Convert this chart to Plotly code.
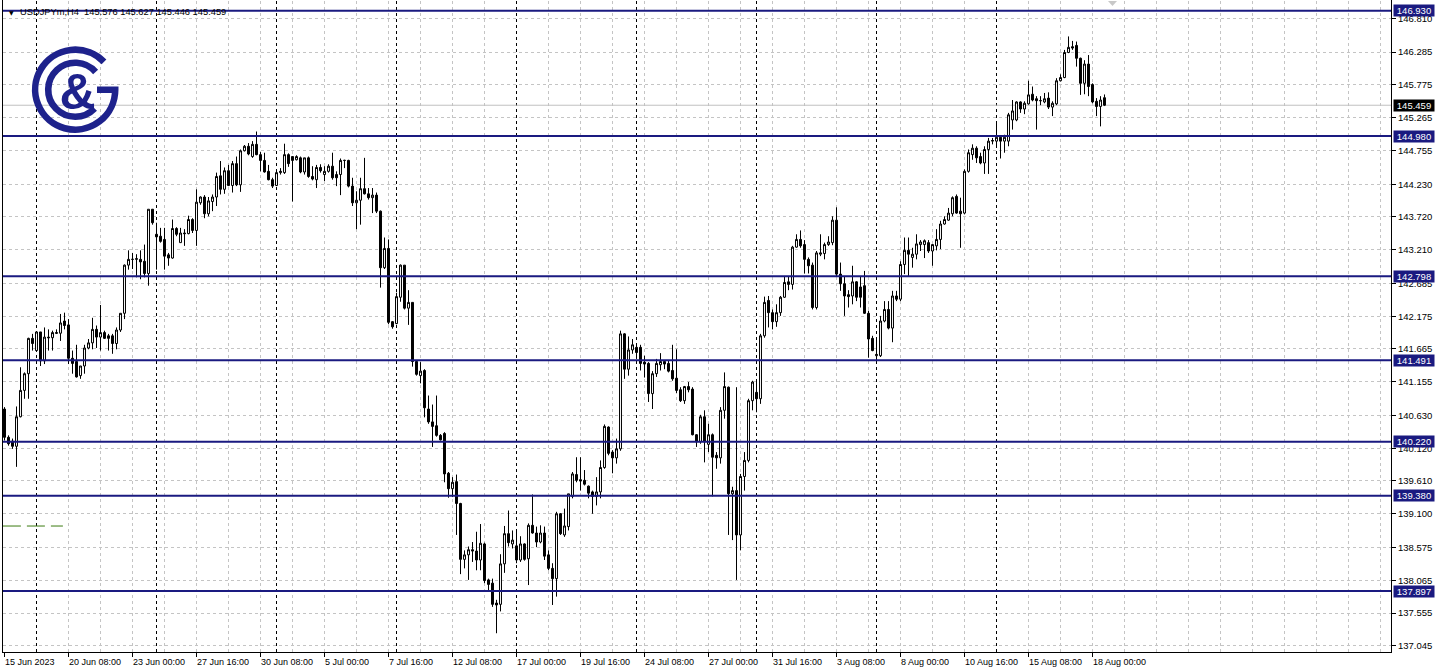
import base64
import plotly.graph_objects as go

# ---------------- data (USDJPYm, H4) ----------------
bar_open = [
    140.73, 140.29, 140.23, 140.15, 140.61, 141.02, 141.28, 141.83, 141.64, 141.93,
    141.48, 141.85, 141.84, 141.92, 141.91, 142.10, 142.04, 141.52, 141.47, 141.25,
    141.40, 141.68, 141.76, 141.97, 141.85, 141.92, 141.87, 141.87, 141.75, 141.96,
    142.22, 142.97, 143.06, 143.06, 143.06, 143.03, 142.84, 143.84, 143.45, 143.42,
    143.37, 143.13, 143.08, 143.54, 143.32, 143.47, 143.46, 143.68, 143.51, 143.94,
    144.03, 143.77, 143.96, 144.03, 144.36, 144.15, 144.44, 144.21, 144.55, 144.22,
    144.75, 144.82, 144.66, 144.85, 144.69, 144.60, 144.43, 144.30, 144.21, 144.41,
    144.41, 144.69, 144.66, 144.61, 144.64, 144.42, 144.64, 144.35, 144.30, 144.49,
    144.38, 144.43, 144.51, 144.38, 144.38, 144.60, 144.60, 144.20, 143.94, 143.98,
    144.16, 144.08, 144.02, 144.06, 143.81, 142.93, 143.23, 142.09, 142.06, 142.47,
    142.97, 142.30, 142.39, 141.47, 141.25, 141.33, 140.73, 140.53, 140.47, 140.32,
    140.35, 139.73, 139.49, 139.60, 139.26, 138.39, 138.46, 138.54, 138.52, 138.38,
    138.63, 138.07, 138.02, 137.71, 137.69, 138.32, 138.79, 138.63, 138.60, 138.38,
    138.63, 138.40, 138.92, 138.80, 138.66, 138.80, 138.46, 138.25, 138.09, 139.10,
    138.77, 138.90, 139.37, 139.71, 139.63, 139.62, 139.53, 139.44, 139.37, 139.44,
    139.82, 140.45, 140.06, 139.97, 140.11, 141.90, 141.35, 141.65, 141.69, 141.69,
    141.46, 141.44, 140.97, 141.28, 141.42, 141.47, 141.44, 141.33, 141.21, 141.03,
    140.86, 141.08, 141.04, 140.33, 140.22, 140.61, 140.18, 140.33, 140.01, 139.97,
    140.71, 141.07, 139.41, 139.46, 138.77, 139.68, 139.93, 140.86, 140.99, 140.89,
    141.87, 142.42, 142.23, 142.09, 142.23, 142.47, 142.71, 142.67, 143.25, 143.37,
    143.29, 143.06, 142.97, 142.31, 143.14, 143.15, 143.29, 143.32, 143.67, 142.83,
    142.68, 142.51, 142.49, 142.71, 142.63, 142.65, 142.22, 141.83, 141.56, 141.56,
    142.10, 142.28, 141.99, 142.49, 142.44, 142.98, 143.20, 143.09, 143.14, 143.29,
    143.29, 143.32, 143.19, 143.27, 143.37, 143.61, 143.67, 143.77, 144.04, 143.81,
    143.78, 144.43, 144.69, 144.79, 144.66, 144.56, 144.77, 144.90, 144.90, 144.96,
    144.90, 144.90, 145.23, 145.23, 145.51, 145.40, 145.48, 145.63, 145.56, 145.53,
    145.51, 145.57, 145.43, 145.48, 145.84, 145.89, 146.28, 146.37, 146.39, 146.19,
    145.80, 146.10, 145.78, 145.52, 145.44, 145.576,
]
bar_high = [
    140.76, 140.32, 140.27, 140.77, 141.38, 141.30, 141.84, 141.90, 141.93, 141.93,
    142.00, 141.97, 141.95, 141.97, 142.21, 142.23, 142.13, 141.64, 141.73, 141.40,
    141.73, 141.82, 142.15, 142.03, 142.35, 141.95, 141.90, 141.90, 142.00, 142.22,
    142.98, 143.20, 143.16, 143.14, 143.20, 143.29, 143.84, 143.84, 143.63, 143.55,
    143.55, 143.16, 143.68, 143.56, 143.55, 143.53, 143.74, 143.70, 144.15, 144.04,
    144.06, 144.03, 144.07, 144.41, 144.59, 144.49, 144.53, 144.59, 144.66, 144.77,
    144.84, 144.87, 144.90, 145.05, 144.73, 144.72, 144.53, 144.33, 144.42, 144.48,
    144.86, 144.71, 144.66, 144.68, 144.66, 144.64, 144.66, 144.51, 144.53, 144.54,
    144.51, 144.54, 144.72, 144.43, 144.63, 144.61, 144.61, 144.33, 144.12, 144.33,
    144.64, 144.17, 144.17, 144.10, 143.82, 143.40, 143.37, 142.10, 142.54, 142.98,
    142.97, 142.58, 142.39, 141.48, 141.46, 141.35, 140.94, 140.80, 140.94, 140.34,
    140.37, 139.75, 139.67, 139.71, 139.27, 138.53, 138.59, 138.66, 138.82, 138.94,
    138.65, 138.09, 138.09, 137.76, 138.47, 138.91, 139.15, 138.84, 138.82, 138.75,
    138.64, 138.95, 139.40, 138.90, 138.92, 138.90, 138.53, 138.33, 139.13, 139.11,
    139.18, 139.41, 139.75, 139.98, 139.98, 139.78, 139.54, 139.46, 139.67, 139.93,
    140.49, 140.46, 140.09, 140.27, 141.95, 141.91, 141.86, 141.82, 141.72, 141.73,
    141.56, 141.46, 141.32, 141.51, 141.60, 141.49, 141.48, 141.73, 141.66, 141.07,
    141.09, 141.15, 141.07, 140.34, 140.64, 140.71, 140.50, 140.35, 140.06, 140.76,
    141.30, 141.08, 139.52, 141.07, 139.72, 140.06, 140.89, 141.17, 141.17, 141.90,
    142.48, 142.49, 142.28, 142.36, 142.49, 142.79, 142.80, 143.27, 143.45, 143.51,
    143.36, 143.09, 143.01, 143.19, 143.45, 143.32, 143.42, 143.73, 143.87, 143.01,
    142.80, 142.58, 142.96, 142.72, 142.80, 142.88, 142.26, 141.87, 141.82, 142.18,
    142.41, 142.41, 142.57, 142.57, 143.03, 143.40, 143.40, 143.24, 143.45, 143.36,
    143.37, 143.36, 143.29, 143.53, 143.66, 143.73, 143.86, 144.04, 144.07, 144.02,
    144.46, 144.77, 144.85, 144.82, 144.72, 144.82, 144.95, 144.95, 145.18, 144.97,
    145.00, 145.34, 145.54, 145.52, 145.52, 145.52, 145.84, 145.75, 145.60, 145.60,
    145.65, 145.66, 145.52, 145.88, 145.94, 146.32, 146.53, 146.46, 146.45, 146.20,
    146.16, 146.24, 145.80, 145.57, 145.60, 145.627,
]
bar_low = [
    140.24, 140.16, 140.11, 139.83, 140.60, 140.89, 140.89, 141.64, 141.64, 141.40,
    141.43, 141.64, 141.64, 141.90, 141.79, 141.97, 141.43, 141.28, 141.22, 141.20,
    141.28, 141.66, 141.66, 141.68, 141.64, 141.82, 141.64, 141.59, 141.66, 141.93,
    142.13, 142.90, 142.91, 142.78, 142.75, 142.78, 142.65, 143.60, 142.90, 143.32,
    142.90, 142.96, 143.07, 143.42, 143.32, 143.27, 143.45, 143.47, 143.27, 143.91,
    143.70, 143.73, 143.81, 143.89, 144.07, 144.08, 144.20, 144.10, 144.20, 144.11,
    144.74, 144.68, 144.64, 144.68, 144.43, 144.41, 144.29, 144.17, 144.20, 144.38,
    144.39, 144.50, 143.96, 144.60, 144.40, 144.38, 144.33, 144.29, 144.17, 144.41,
    144.28, 144.41, 144.30, 144.20, 144.06, 144.48, 144.18, 143.89, 143.53, 143.60,
    144.07, 143.99, 143.78, 143.78, 142.62, 142.91, 142.05, 141.98, 142.05, 142.40,
    142.28, 142.04, 141.39, 141.25, 141.13, 140.60, 140.50, 140.14, 140.30, 140.24,
    139.59, 139.35, 139.36, 138.77, 138.16, 138.25, 138.07, 138.35, 138.22, 138.22,
    138.02, 137.91, 137.65, 137.24, 137.58, 138.18, 138.59, 138.56, 138.33, 138.35,
    138.37, 137.99, 138.79, 138.58, 138.64, 138.38, 138.22, 137.68, 137.81, 138.77,
    138.74, 138.84, 139.34, 139.59, 139.46, 139.54, 139.34, 139.10, 139.23, 139.34,
    139.80, 140.01, 139.73, 139.88, 140.08, 141.20, 141.25, 141.59, 141.51, 141.33,
    141.22, 140.84, 140.73, 141.23, 141.33, 141.35, 141.30, 141.17, 140.98, 140.84,
    140.81, 140.99, 140.32, 140.14, 140.19, 139.90, 140.06, 139.37, 139.80, 139.88,
    140.58, 138.77, 138.69, 138.07, 138.53, 139.46, 139.90, 140.71, 140.68, 140.81,
    141.84, 142.00, 141.97, 142.01, 142.18, 142.46, 142.58, 142.59, 143.24, 143.24,
    142.84, 142.84, 142.28, 142.28, 143.11, 143.06, 143.27, 143.28, 142.80, 142.57,
    142.18, 142.31, 142.36, 142.41, 142.31, 142.21, 141.53, 141.63, 141.48, 141.54,
    142.08, 141.97, 141.77, 142.41, 142.41, 142.83, 142.79, 142.93, 143.06, 143.19,
    143.08, 143.16, 142.96, 143.20, 143.22, 143.60, 143.66, 143.73, 143.77, 143.24,
    143.76, 144.41, 144.61, 144.56, 144.54, 144.39, 144.39, 144.85, 144.82, 144.63,
    144.72, 144.82, 145.08, 145.21, 145.34, 145.32, 145.47, 145.52, 145.08, 145.46,
    145.49, 145.40, 145.29, 145.46, 145.83, 145.88, 146.27, 146.32, 146.06, 145.62,
    145.63, 145.60, 145.49, 145.29, 145.13, 145.446,
]
bar_close = [
    140.29, 140.19, 140.15, 140.61, 141.02, 141.28, 141.83, 141.75, 141.93, 141.48,
    141.85, 141.84, 141.92, 141.91, 142.07, 142.03, 141.52, 141.44, 141.23, 141.40,
    141.68, 141.76, 141.97, 141.85, 141.92, 141.83, 141.83, 141.75, 141.96, 142.22,
    142.97, 143.06, 143.06, 143.07, 143.02, 142.84, 143.84, 143.63, 143.41, 143.34,
    143.11, 143.08, 143.54, 143.45, 143.47, 143.46, 143.68, 143.51, 143.95, 144.03,
    143.77, 143.97, 144.03, 144.35, 144.15, 144.44, 144.21, 144.55, 144.22, 144.75,
    144.82, 144.70, 144.85, 144.69, 144.60, 144.42, 144.30, 144.20, 144.41, 144.43,
    144.69, 144.55, 144.60, 144.66, 144.42, 144.64, 144.35, 144.31, 144.49, 144.44,
    144.43, 144.51, 144.33, 144.33, 144.60, 144.60, 144.20, 143.94, 143.98, 144.16,
    144.08, 144.02, 144.06, 143.81, 142.93, 143.23, 142.08, 142.01, 142.48, 142.97,
    142.30, 142.39, 141.47, 141.27, 141.32, 140.75, 140.53, 140.46, 140.32, 140.25,
    139.72, 139.49, 139.59, 139.26, 138.39, 138.46, 138.54, 138.52, 138.38, 138.64,
    138.06, 138.00, 137.69, 137.68, 138.32, 138.79, 138.65, 138.69, 138.38, 138.63,
    138.39, 138.92, 138.80, 138.66, 138.80, 138.44, 138.25, 138.09, 139.10, 138.79,
    138.91, 139.41, 139.72, 139.62, 139.61, 139.56, 139.42, 139.37, 139.44, 139.82,
    140.46, 140.04, 139.97, 140.11, 141.90, 141.35, 141.65, 141.73, 141.61, 141.44,
    141.43, 140.97, 141.28, 141.44, 141.47, 141.43, 141.32, 141.20, 141.02, 140.86,
    141.08, 141.03, 140.33, 140.22, 140.61, 140.22, 140.33, 139.98, 139.97, 140.71,
    141.08, 139.41, 139.46, 138.77, 139.68, 139.93, 140.86, 141.15, 140.89, 141.87,
    142.39, 142.23, 142.09, 142.23, 142.47, 142.70, 142.67, 143.25, 143.37, 143.27,
    143.06, 142.96, 142.31, 143.16, 143.16, 143.29, 143.33, 143.67, 142.83, 142.68,
    142.49, 142.48, 142.71, 142.47, 142.47, 142.22, 141.82, 141.64, 141.58, 142.10,
    142.28, 141.99, 142.49, 142.44, 142.98, 143.20, 143.14, 143.14, 143.30, 143.33,
    143.35, 143.19, 143.29, 143.37, 143.61, 143.68, 143.78, 144.02, 143.78, 143.77,
    144.43, 144.72, 144.79, 144.64, 144.56, 144.77, 144.90, 144.91, 144.96, 144.90,
    144.96, 145.31, 145.37, 145.51, 145.40, 145.49, 145.62, 145.54, 145.53, 145.53,
    145.56, 145.43, 145.49, 145.84, 145.89, 146.28, 146.36, 146.35, 146.19, 145.80,
    146.10, 145.75, 145.51, 145.44, 145.54, 145.459,
]

date_labels = ["15 Jun 2023", "20 Jun 08:00", "23 Jun 00:00", "27 Jun 16:00",
               "30 Jun 08:00", "5 Jul 00:00", "7 Jul 16:00", "12 Jul 08:00",
               "17 Jul 00:00", "19 Jul 16:00", "24 Jul 08:00", "27 Jul 00:00",
               "31 Jul 16:00", "3 Aug 08:00", "8 Aug 00:00", "10 Aug 16:00",
               "15 Aug 08:00", "18 Aug 00:00"]
date_label_bars = [0, 16, 32, 48, 64, 80, 96, 112, 128, 144, 160, 176,
                   192, 208, 224, 240, 256, 272]
week_start_bars = [8, 38, 68, 98, 128, 158, 188, 218, 248]

level_prices = [146.930, 144.980, 142.798, 141.491, 140.220, 139.380, 137.897]
last_price = 145.459
price_ticks = [146.810, 146.285, 145.775, 145.265, 144.755, 144.230, 143.720,
               143.210, 142.685, 142.175, 141.665, 141.155, 140.630, 140.120,
               139.610, 139.100, 138.575, 138.065, 137.555, 137.045]
indicator_level = 138.909
title_text = "USDJPYm,H4  145.576 145.627 145.446 145.459"

# ---------------- styling ----------------
NAVY = "#1a1a80"
LOGO = "#1e228c"
GRID = "#c4c4c4"
FONT = "Liberation Sans"
W, H = 1437, 670
PL, PT, PW, PH = 3, 0, 1388, 652
X_RANGE = [-0.375, 346.625]
Y_RANGE = [136.948, 147.097]


def paper(px, py):
    return (px - PL) / PW, (PT + PH - py) / PH


bars = list(range(len(bar_close)))
hi = [max(h, o, c) for h, o, c in zip(bar_high, bar_open, bar_close)]
lo = [min(l, o, c) for l, o, c in zip(bar_low, bar_open, bar_close)]

fig = go.Figure()
fig.add_trace(go.Candlestick(
    x=bars, open=bar_open, high=hi, low=lo, close=bar_close,
    increasing=dict(line=dict(color="black", width=1), fillcolor="white"),
    decreasing=dict(line=dict(color="black", width=1), fillcolor="black"),
    whiskerwidth=0, hoverinfo="skip", showlegend=False,
))

shapes = []
# vertical grid every 8 bars
for b in range(8, 347, 8):
    shapes.append(dict(type="line", xref="x", yref="paper", x0=b, x1=b, y0=0, y1=1,
                       line=dict(color=GRID, width=1, dash="3px,3px"), layer="below"))
# weekly separators
for b in week_start_bars:
    shapes.append(dict(type="line", xref="x", yref="paper", x0=b, x1=b, y0=0, y1=1,
                       line=dict(color="black", width=1, dash="3px,3px"), layer="below"))
# current price line
shapes.append(dict(type="line", xref="paper", yref="y", x0=0, x1=1, y0=last_price, y1=last_price,
                   line=dict(color="#c0c0c0", width=1), layer="below"))
# horizontal levels
for p in level_prices:
    shapes.append(dict(type="line", xref="paper", yref="y", x0=0, x1=1, y0=p, y1=p,
                       line=dict(color=NAVY, width=2), layer="above"))
# green indicator dashes at bottom left
shapes.append(dict(type="line", xref="x", yref="y", x0=-0.4, x1=14.6,
                   y0=indicator_level, y1=indicator_level,
                   line=dict(color="#3a7a10", width=1, dash="18px,6px"), layer="above"))
# chart-shift marker (small grey triangle at top)
ax, ay = paper(1108, 1)
bx, by = paper(1117, 1)
cx, cy = paper(1112.5, 6)
shapes.append(dict(type="path", xref="paper", yref="paper",
                   path=f"M {ax} {ay} L {bx} {by} L {cx} {cy} Z",
                   fillcolor="#c8c8c8", line=dict(width=0), layer="above"))

annotations = []
# title
tx, _ = paper(7, 0)
annotations.append(dict(xref="paper", yref="paper", x=tx, y=1, yshift=-12,
                        xanchor="left", yanchor="middle", showarrow=False,
                        text="▼", font=dict(family="DejaVu Sans", size=6, color="black")))
tx2, _ = paper(18, 0)
annotations.append(dict(xref="paper", yref="paper", x=tx2, y=1, yshift=-12,
                        xanchor="left", yanchor="middle", showarrow=False,
                        text=title_text, font=dict(family=FONT, size=9.3, color="black")))
# date labels
for b, lab in zip(date_label_bars, date_labels):
    annotations.append(dict(xref="x", yref="paper", x=b, y=0, yshift=-3, xshift=-2,
                            xanchor="left", yanchor="top", showarrow=False, text=lab,
                            font=dict(family=FONT, size=9, color="black")))
# level price boxes
for p in level_prices:
    annotations.append(dict(xref="paper", yref="y", x=1, y=p, xshift=2,
                            xanchor="left", yanchor="middle", showarrow=False,
                            text=f"{p:.3f}", bgcolor=NAVY, borderpad=0,
                            width=40, height=11,
                            font=dict(family=FONT, size=9.5, color="white")))
annotations.append(dict(xref="paper", yref="y", x=1, y=last_price, xshift=2,
                        xanchor="left", yanchor="middle", showarrow=False,
                        text=f"{last_price:.3f}", bgcolor="black", borderpad=0,
                        width=40, height=11,
                        font=dict(family=FONT, size=9.5, color="white")))

# logo as inline svg
svg = f'''<svg xmlns="http://www.w3.org/2000/svg" width="94" height="94" viewBox="28 43 94 94">
<g fill="none" stroke="{LOGO}" stroke-width="6.6">
<path d="M 104.0 61.9 A 40 40 0 1 0 115.2 89.7 L 97 89.7"/>
<path d="M 95.6 72.0 A 27 27 0 1 0 94.6 108.5"/>
</g>
<text x="77.5" y="109" text-anchor="middle" font-family="Liberation Sans" font-weight="bold"
 font-size="50" fill="{LOGO}">&amp;</text>
</svg>'''
svg_uri = "data:image/svg+xml;base64," + base64.b64encode(svg.encode("utf-8")).decode("ascii")
lx, ly = paper(28, 43)

fig.update_layout(
    width=W, height=H, autosize=False,
    margin=dict(l=PL, r=W - PL - PW, t=PT, b=H - PT - PH, pad=0),
    paper_bgcolor="white", plot_bgcolor="white",
    showlegend=False,
    xaxis=dict(range=X_RANGE, rangeslider=dict(visible=False), showgrid=False,
               zeroline=False, tickmode="array", tickvals=date_label_bars,
               showticklabels=False, ticks="outside", ticklen=4, tickcolor="black",
               showline=True, linecolor="black", linewidth=1, mirror=True,
               fixedrange=True),
    yaxis=dict(side="right", range=Y_RANGE, tickmode="array", tickvals=price_ticks,
               ticktext=[f"{v:.3f}" for v in price_ticks], ticks="outside", ticklen=4,
               tickcolor="black", showgrid=True, gridcolor=GRID, griddash="3px,3px",
               gridwidth=1, zeroline=False, showline=True, linecolor="black",
               linewidth=1, mirror=True,
               tickfont=dict(family=FONT, size=9.5, color="black"), fixedrange=True),
    shapes=shapes,
    annotations=annotations,
    images=[dict(source=svg_uri, xref="paper", yref="paper", x=lx, y=ly,
                 sizex=94 / PW, sizey=94 / PH, xanchor="left", yanchor="top",
                 sizing="stretch", layer="above")],
)

fig.write_html(
    "out.html",
    config={"displayModeBar": False},
    post_script="document.body.style.margin='0';document.body.style.overflow='hidden';",
)
